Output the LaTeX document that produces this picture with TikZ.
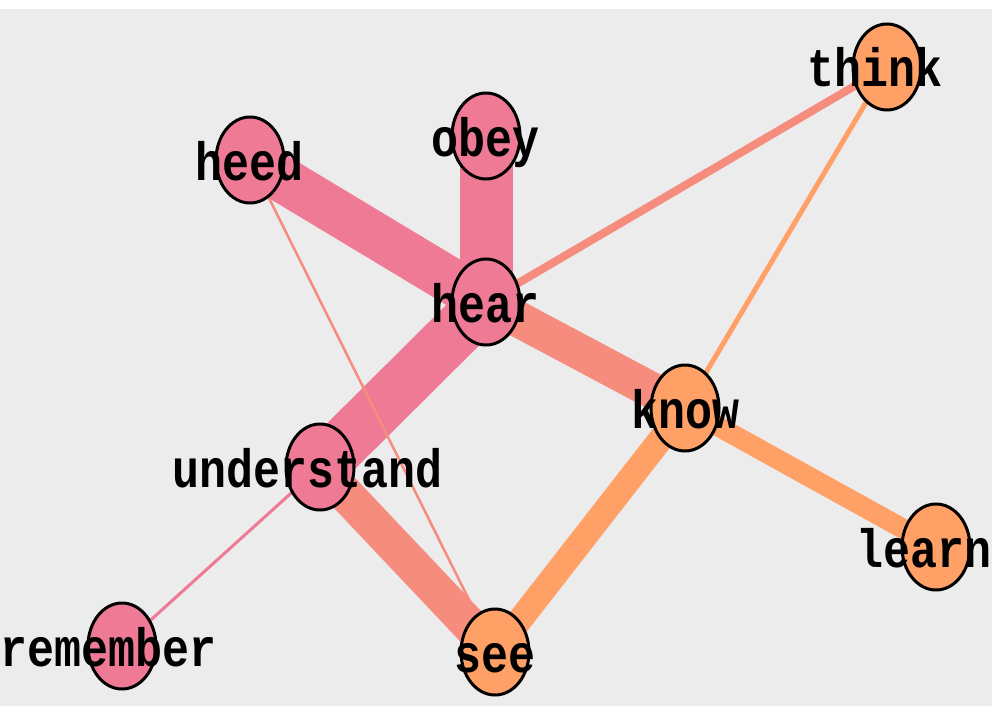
\documentclass[tikz,border=0pt]{standalone}
\usepackage{fontspec}
\usepackage{graphicx}
\newfontfamily\wordfont{Liberation Mono}
\usetikzlibrary{shapes.geometric,backgrounds}

\definecolor{groupA}{HTML}{EF7A95}
\definecolor{groupB}{HTML}{FFA066}
\definecolor{mixAB}{HTML}{F68C7D}
\definecolor{canvas}{HTML}{ECECEC}

\tikzset{
	word/.style={ellipse, draw=black, line width=3pt, minimum width=68pt,
		minimum height=86pt, inner sep=0pt,
		font=\wordfont\bfseries\fontsize{45}{45}\selectfont},
	wordA/.style={word, fill=groupA},
	wordB/.style={word, fill=groupB},
	tieA/.style={draw=groupA, line width=#1},
	tieB/.style={draw=groupB, line width=#1},
	tieAB/.style={draw=mixAB, line width=#1},
}

% word label, baseline a bit below the centre, optional shift sideways
\newcommand\wlabel[2][0pt]{\smash{\makebox[0pt]{\kern#1\raisebox{-20pt}{\scalebox{1}[1.2]{#2}}\kern-#1}}}

\begin{document}
\begin{tikzpicture}[x=1pt,y=-1pt]
	\useasboundingbox (0,0) rectangle (992,706);
	
	% Words
	\node[wordA] (heed) at (250,160) {\wlabel{heed}};
	\node[wordA] (obey) at (486,136) {\wlabel{obey}};
	\node[wordA] (hear) at (486,302) {\wlabel{hear}};
	\node[wordA] (understand) at (320,467) {\wlabel[-12pt]{understand}};
	\node[wordA] (remember) at (122,646) {\wlabel[-13pt]{remember}};
	\node[wordB] (think) at (887,67) {\wlabel[-12pt]{think}};
	\node[wordB] (know) at (685,408) {\wlabel{know}};
	\node[wordB] (learn) at (936,547) {\wlabel[-12pt]{learn}};
	\node[wordB] (see) at (495,652) {\wlabel{see}};
	
	\begin{scope}[on background layer]
		% Canvas
		\fill[white] (0,0) rectangle (992,706);
		\fill[canvas] (0,9) rectangle (992,706);
		
		% Links, width by strength
		\draw[tieA=46pt] (heed.center) -- (hear.center);
		\draw[tieA=53pt] (obey.center) -- (hear.center);
		\draw[tieA=52pt] (hear.center) -- (understand.center);
		\draw[tieA=3pt] (understand.center) -- (remember.center);
		\draw[tieAB=36pt] (hear.center) -- (know.center);
		\draw[tieAB=8pt] (hear.center) -- (think.center);
		\draw[tieAB=36pt] (understand.center) -- (see.center);
		\draw[tieAB=2.5pt] (heed.center) -- (see.center);
		\draw[tieB=5pt] (think.center) -- (know.center);
		\draw[tieB=20pt] (know.center) -- (learn.center);
		\draw[tieB=25pt] (know.center) -- (see.center);
	\end{scope}
\end{tikzpicture}
\end{document}
